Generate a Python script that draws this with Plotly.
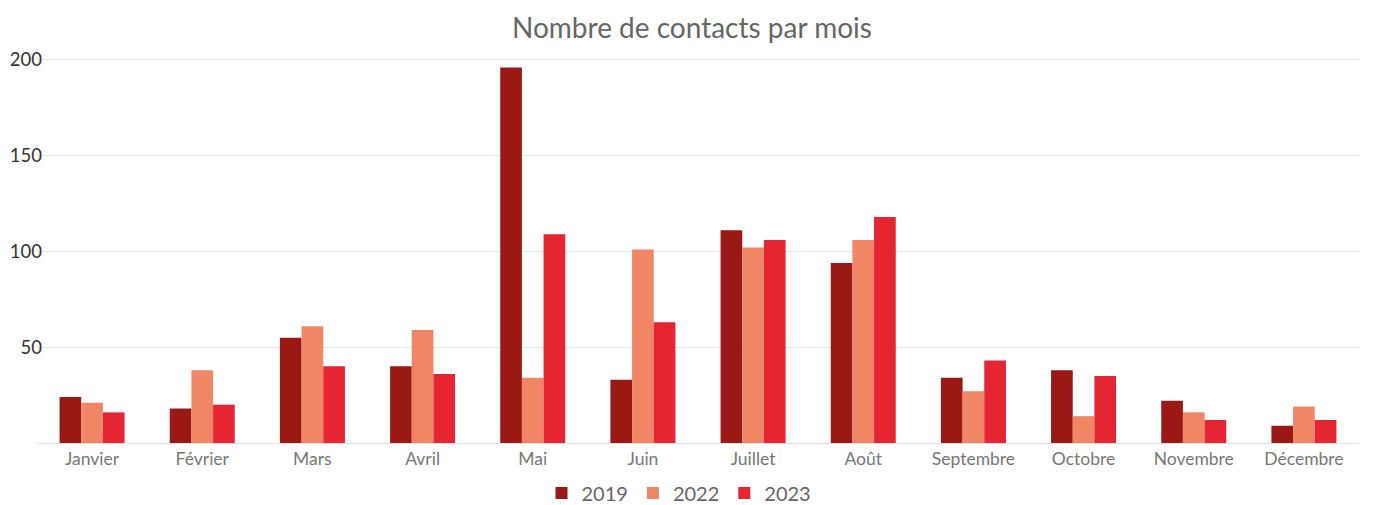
import plotly.graph_objects as go

months = ["Janvier", "Février", "Mars", "Avril", "Mai", "Juin", "Juillet",
          "Août", "Septembre", "Octobre", "Novembre", "Décembre"]
v2019 = [24, 18, 55, 40, 196, 33, 111, 94, 34, 38, 22, 9]
v2022 = [21, 38, 61, 59, 34, 101, 102, 106, 27, 14, 16, 19]
v2023 = [16, 20, 40, 36, 109, 63, 106, 118, 43, 35, 12, 12]
years = ["2019", "2022", "2023"]
colors = ["#9B1915", "#F08666", "#E52532"]

fig = go.Figure()
for name, vals, c in zip(years, [v2019, v2022, v2023], colors):
    fig.add_trace(go.Bar(x=months, y=vals, name=name, marker_color=c,
                         marker_line_width=0))

W, H = 1375, 505
fig.update_layout(
    width=W, height=H,
    paper_bgcolor="white", plot_bgcolor="white",
    font=dict(family="Lato, sans-serif", color="#666"),
    title=dict(text="Nombre de contacts par mois", x=684 / W, xanchor="center",
               y=1 - 20 / H, yanchor="middle", automargin=False,
               font=dict(size=28, color="#666", family="Lato, sans-serif")),
    margin=dict(l=29, r=24, t=48, b=70, autoexpand=False),
    barmode="group", bargap=0.41, bargroupgap=0,
    legend=dict(orientation="h", xref="container", x=671 / W, xanchor="center",
                yref="container", y=1 - 485 / H,
                yanchor="middle", font=dict(size=20, color="#666"),
                traceorder="normal", itemwidth=30),
    xaxis=dict(showgrid=False, showline=True, linecolor="#e0e0e0",
               linewidth=1, ticks="", automargin=False, ticklabelstandoff=0,
               tickfont=dict(size=17.5, color="#777")),
    yaxis=dict(range=[0, 202], tickvals=[50, 100, 150, 200],
               showgrid=True, gridcolor="#e6e6e6", gridwidth=1,
               zeroline=False, ticks="", automargin=False,
               ticklabelstandoff=-6,
               tickfont=dict(size=18.5, color="#333")),
)
fig.write_html("out.html")
